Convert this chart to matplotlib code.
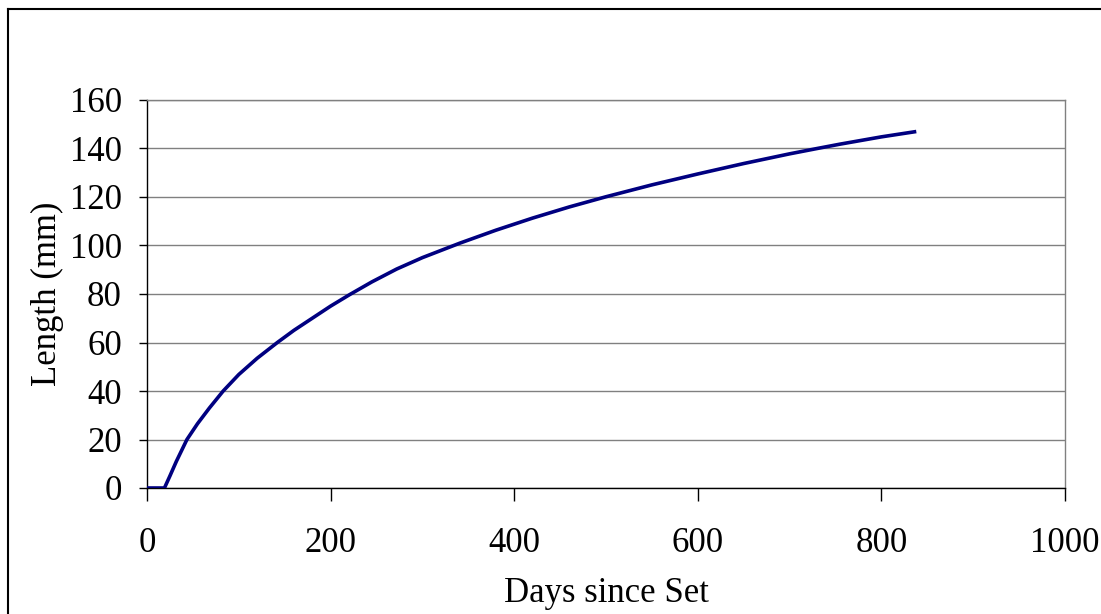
import matplotlib
matplotlib.use("Agg")
import matplotlib.pyplot as plt
from matplotlib.lines import Line2D

# growth readings: days since set vs length in mm
days = [0, 10, 19, 25, 32, 43.5, 55, 68, 83, 100, 120, 142, 160, 180, 200,
        221, 245, 272, 300, 341, 380, 420, 460, 500, 550, 600, 650, 700,
        730, 755, 800, 838]
length_mm = [0, 0, 0, 5, 11, 20, 26.5, 33, 40, 46.8, 53.5, 60, 65, 70, 75,
             79.8, 85, 90.3, 95, 101, 106.3, 111.3, 115.9, 120.1, 125, 129.5,
             133.8, 137.8, 140, 141.8, 144.8, 147]

x_ticks = [0, 200, 400, 600, 800, 1000]
y_ticks = [0, 20, 40, 60, 80, 100, 120, 140, 160]

plt.rcParams['font.family'] = ['Liberation Serif', 'DejaVu Serif']

fig = plt.figure(figsize=(11.01, 6.14), dpi=100)
ax = fig.add_axes([147 / 1101, 1 - 488 / 614, (1065 - 147) / 1101, (488 - 100) / 614])

ax.plot(days, length_mm, color='#000080', lw=2.6, solid_capstyle='butt', zorder=3)

ax.set_xlim(0, 1000)
ax.set_ylim(0, 160)
ax.set_xticks(x_ticks)
ax.set_yticks(y_ticks)
ax.tick_params(axis='both', labelsize=25, direction='out', color='black')
ax.tick_params(axis='y', length=6, width=1, pad=12)
ax.tick_params(axis='x', length=9, width=1, pad=19)

ax.yaxis.grid(True, color='#808080', lw=1)
ax.set_axisbelow(True)
for side in ('top', 'right'):
    ax.spines[side].set_color('#808080')
for side in ('left', 'bottom'):
    ax.spines[side].set_color('black')
for sp in ax.spines.values():
    sp.set_linewidth(1)

ax.set_xlabel('Days since Set', fontsize=25, labelpad=12)
ax.set_ylabel('Length (mm)', fontsize=25, labelpad=4)

# outer chart frame
W, H = 1101, 614
fig.add_artist(Line2D([8 / W, 8 / W], [1 - 9 / H, -0.1], transform=fig.transFigure,
                      color='black', lw=1.5))
fig.add_artist(Line2D([8 / W, 1.1], [1 - 9 / H, 1 - 9 / H], transform=fig.transFigure,
                      color='black', lw=1.5))

fig.savefig('out.png', dpi=100)
